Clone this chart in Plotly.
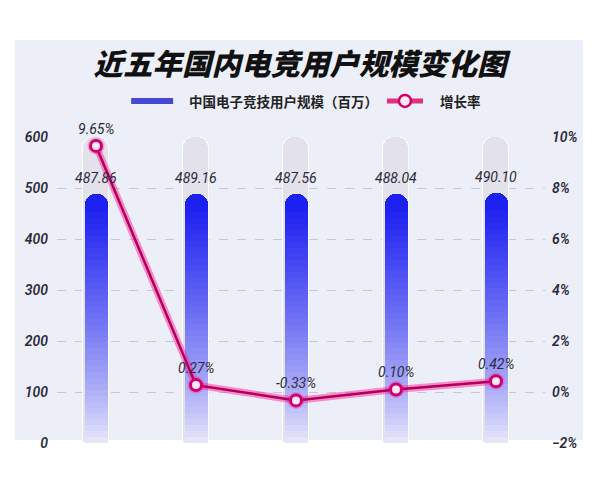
import plotly.graph_objects as go

# data
positions = [0, 1, 2, 3, 4]
users = [487.86, 489.16, 487.56, 488.04, 490.10]
user_labels = ["487.86", "489.16", "487.56", "488.04", "490.10"]
growth = [9.65, 0.27, -0.33, 0.10, 0.42]
growth_labels = ["9.65%", "0.27%", "-0.33%", "0.10%", "0.42%"]
scale_max = 600

title_text = "近五年国内电竞用户规模变化图"
bar_name = "中国电子竞技用户规模（百万）"
rate_name = "增长率"

label_font = dict(family="Liberation Sans Narrow, Roboto, sans-serif", size=14,
                  color="#2b2b3b", style="italic")
tick_font = dict(family="Liberation Sans Narrow, Roboto, sans-serif", size=14,
                 color="#2b2b3b", style="italic", weight=600)
cjk = "Noto Sans CJK SC"

fig = go.Figure()

# grey tracks behind every bar
fig.add_trace(go.Bar(x=positions, y=[scale_max] * len(positions), width=0.26,
                     marker=dict(color="#e3e2eb", line=dict(color="rgba(255,255,255,0.9)", width=1),
                                 cornerradius=12),
                     showlegend=False, hoverinfo="skip"))

# blue bars: thin stacked slices fake the vertical gradient, a solid cap on top
# keeps the rounded end
n_steps = 40
cap = 24
top_rgb = (28, 32, 240)
bottom_rgb = (236, 236, 250)
for k in range(n_steps + 1):
    if k < n_steps:
        t = ((k + 0.5) / n_steps) ** 0.8
        heights = [(v - cap) / n_steps for v in users]
    else:
        t = 1.0
        heights = [cap] * len(users)
    rgb = [round(b + (a - b) * t) for a, b in zip(top_rgb, bottom_rgb)]
    fig.add_trace(go.Bar(x=positions, y=heights, yaxis="y2", width=0.23,
                         marker=dict(color="rgb(%d,%d,%d)" % tuple(rgb), line=dict(width=0),
                                     cornerradius=10),
                         showlegend=False, hoverinfo="skip"))

# growth rate line with a pink glow
fig.add_trace(go.Scatter(x=positions, y=growth, yaxis="y3", mode="lines+markers",
                         line=dict(color="rgba(255,40,160,0.5)", width=7),
                         marker=dict(size=17, color="rgba(255,40,160,0.35)"),
                         showlegend=False, hoverinfo="skip"))
fig.add_trace(go.Scatter(x=positions, y=growth, yaxis="y3", mode="lines+markers",
                         name=rate_name, showlegend=False,
                         line=dict(color="#b0005a", width=2.5),
                         marker=dict(size=11, color="#fde8f3",
                                     line=dict(color="#d1006c", width=3))))

for x, v, txt in zip(positions, users, user_labels):
    fig.add_annotation(x=x, y=v, yref="y2", text=txt, showarrow=False,
                       yshift=16, font=label_font)
for x, g, txt in zip(positions, growth, growth_labels):
    fig.add_annotation(x=x, y=g, yref="y3", text=txt, showarrow=False,
                       yshift=17, font=label_font)

# light panel behind the chart
fig.add_shape(type="rect", xref="paper", yref="paper",
              x0=-0.086, x1=1.078, y0=0.01, y1=1.317,
              fillcolor="#edeff8", line=dict(width=0), layer="below")

# hand-drawn legend
legend_y = 1.118
legend_font = dict(family=cjk, size=13.5, weight="bold", color="#222222")
fig.add_shape(type="line", xref="paper", yref="paper", x0=0.152, x1=0.238,
              y0=legend_y, y1=legend_y, line=dict(color="#4848d2", width=6))
fig.add_annotation(xref="paper", yref="paper", x=0.266, y=legend_y, text=bar_name,
                   xanchor="left", yanchor="middle", showarrow=False, font=legend_font)
fig.add_shape(type="line", xref="paper", yref="paper", x0=0.676, x1=0.75,
              y0=legend_y, y1=legend_y, line=dict(color="#e0307e", width=5))
fig.add_shape(type="circle", xref="paper", yref="paper", xsizemode="pixel",
              ysizemode="pixel", xanchor=0.713, yanchor=legend_y,
              x0=-6, x1=6, y0=-6, y1=6,
              fillcolor="#fde8f3", line=dict(color="#d1006c", width=2.5))
fig.add_annotation(xref="paper", yref="paper", x=0.781, y=legend_y, text=rate_name,
                   xanchor="left", yanchor="middle", showarrow=False, font=legend_font)

fig.update_layout(
    width=600, height=480,
    margin=dict(l=49, r=63, t=129, b=45, autoexpand=False),
    paper_bgcolor="white", plot_bgcolor="rgba(0,0,0,0)",
    barmode="stack", bargap=0, showlegend=False,
    title=dict(text=title_text, x=0.4867, xref="container", xanchor="center",
               y=1 - 57 / 480, yref="container", yanchor="middle",
               font=dict(family=cjk, size=29.5, weight=900, color="#111111", style="italic")),
    xaxis=dict(range=[-0.39, 4.49], showticklabels=False, showgrid=False,
               zeroline=False, showline=False, fixedrange=True),
    yaxis=dict(range=[0, 600], dtick=100, showgrid=True, gridcolor="#c6c7d3",
               griddash="dash", gridwidth=1, zeroline=False, showline=False,
               ticks="", tickfont=tick_font, ticklabelstandoff=8, automargin=False),
    yaxis2=dict(range=[0, 600], overlaying="y", visible=False),
    yaxis3=dict(range=[-2, 10], dtick=2, overlaying="y", side="right",
                ticksuffix="%", showgrid=False, zeroline=False, showline=False,
                ticks="", tickfont=tick_font, ticklabelstandoff=6, automargin=False),
)

fig.write_html("out.html")
